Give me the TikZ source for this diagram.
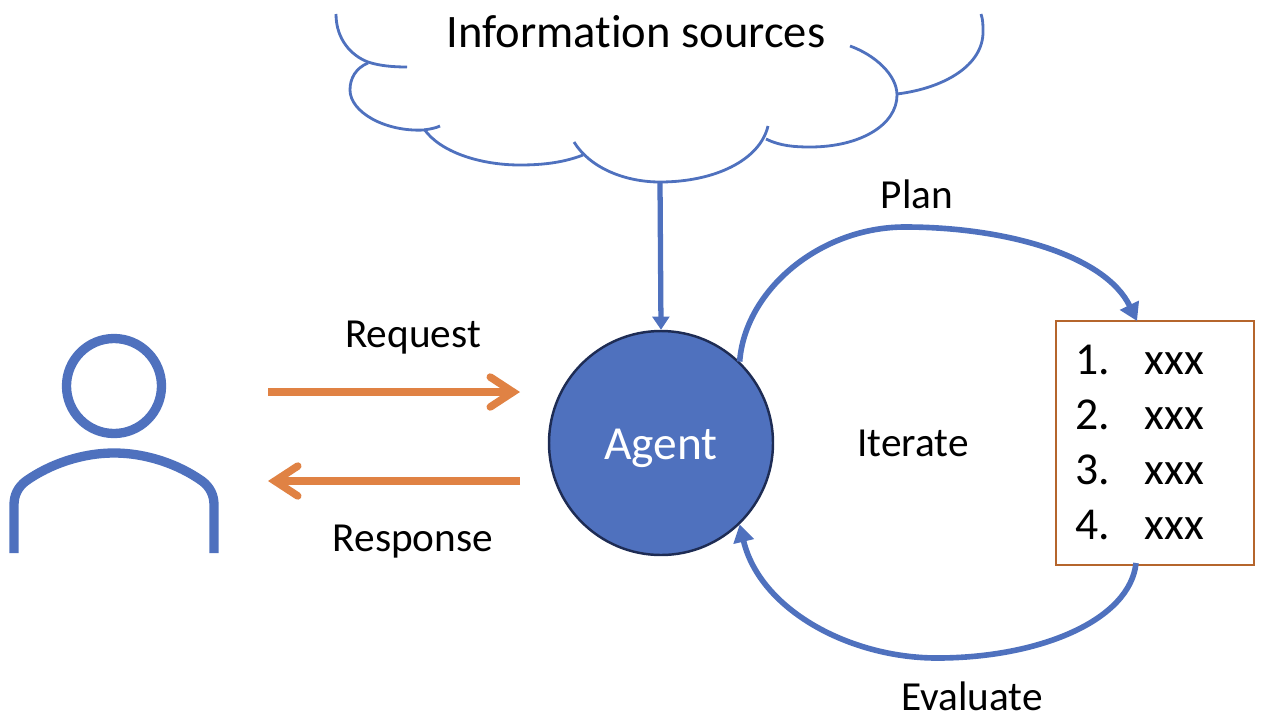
\documentclass[tikz,border=0pt]{standalone}
\usepackage{fontspec}
\setmainfont[RawFeature=-liga]{Carlito}
\usepackage{xcolor}
\usetikzlibrary{arrows.meta,positioning,calc}
\definecolor{agentBlue}{RGB}{79,113,190}
\definecolor{agentEdge}{RGB}{30,44,84}
\definecolor{talkOrange}{RGB}{224,130,68}
\definecolor{listBrown}{RGB}{181,101,44}

\begin{document}
\begin{tikzpicture}[
    x=0.02cm, y=-0.02cm,
    label/.style={inner sep=0pt, font=\fontsize{23.5}{28}\selectfont},
    cloudline/.style={draw=agentBlue, line width=1.6pt},
    person/.style={draw=agentBlue, line width=5.3pt},
    talk/.style={-{Straight Barb[line cap=round, line join=miter, length=13pt, width=17pt]}, line width=4.3pt, draw=talkOrange},
    loop/.style={-{Triangle[length=10pt, width=11.5pt]}, line width=3.2pt, draw=agentBlue},
    feed/.style={-{Triangle[length=7.5pt, width=9.5pt]}, line width=3pt, draw=agentBlue},
    agentnode/.style={circle, draw=agentEdge, fill=agentBlue, line width=1.4pt, minimum size=224*0.02cm, inner sep=0pt, text=white, font=\fontsize{27}{32}\selectfont},
    listbox/.style={rectangle, draw=listBrown, line width=1.2pt, minimum width=198*0.02cm, minimum height=244*0.02cm, inner xsep=0.38cm, inner ysep=0pt, font=\fontsize{26}{31.3}\selectfont}
]
\useasboundingbox (0,0) rectangle (1266,724);
\draw[cloudline] (336,14) .. controls (336,40) and (352,56) .. (368,62) .. controls (380,66) and (394,67) .. (407,67);
\draw[cloudline] (368,63) .. controls (356,68) and (350,78) .. (350,90) .. controls (350,112) and (385,132) .. (424,130) .. controls (430,129) and (436,128) .. (440,126);
\draw[cloudline] (424,129) .. controls (440,152) and (480,165) .. (520,165) .. controls (545,165) and (565,162) .. (583,155);
\draw[cloudline] (574,142) .. controls (590,168) and (625,182) .. (660,182) .. controls (715,182) and (760,160) .. (768,126);
\draw[cloudline] (766,139) .. controls (780,146) and (795,147) .. (810,147) .. controls (860,147) and (897,125) .. (897,95) .. controls (897,75) and (875,55) .. (850,46);
\draw[cloudline] (897,94) .. controls (945,88) and (983,65) .. (983,32) .. controls (983,25) and (983,20) .. (981,14);
\coordinate (cloudbottom) at (660,182);
\node[label, font=\fontsize{26.5}{32}\selectfont] (sources) at (636,32) {Information sources};
\node[agentnode] (agent) at (661,443) {\rule{0pt}{23pt}Agent};
\draw[feed] (cloudbottom) -- (agent.north);
\node[circle, person, minimum size=95*0.02cm, inner sep=0pt] (head) at (114,386) {};
\draw[person] (14,553) -- (14,505) .. controls (14,495) and (18,487) .. (26,481) .. controls (50,464) and (82,453) .. (114,453) .. controls (146,453) and (178,464) .. (202,481) .. controls (210,487) and (214,495) .. (214,505) -- (214,553);
\coordinate (reqstart) at (268,392);
\coordinate (reqend) at (520,392);
\coordinate (respstart) at (520,481);
\coordinate (respend) at (268,481);
\draw[talk] (reqstart) -- (reqend);
\draw[talk] (respstart) -- (respend);
\node[label] (request) at (413,338) {Request};
\node[label] (response) at (413,542) {Response};
\node[listbox] (plans) at (1155,443) {\begin{tabular}{@{}p{1.4cm}@{}p{1.8cm}@{}}\rule{0pt}{25.3pt}1. & xxx\\ 2. & xxx\\ 3. & xxx\\ 4. & xxx\end{tabular}};
\coordinate (planin) at (1137,321);
\coordinate (evalout) at (1136,563);
\draw[loop] (agent.46) .. controls (745,290) and (820,227) .. (905,227) .. controls (1005,227) and (1105,255) .. (planin);
\draw[loop] (evalout) .. controls (1130,620) and (1040,658) .. (937,658) .. controls (850,658) and (760,610) .. (agent.-46);
\node[label] (plan) at (917,194) {Plan};
\node[label] (iterate) at (913,443) {Iterate};
\node[label] (evaluate) at (972,696) {Evaluate};
\end{tikzpicture}
\end{document}
